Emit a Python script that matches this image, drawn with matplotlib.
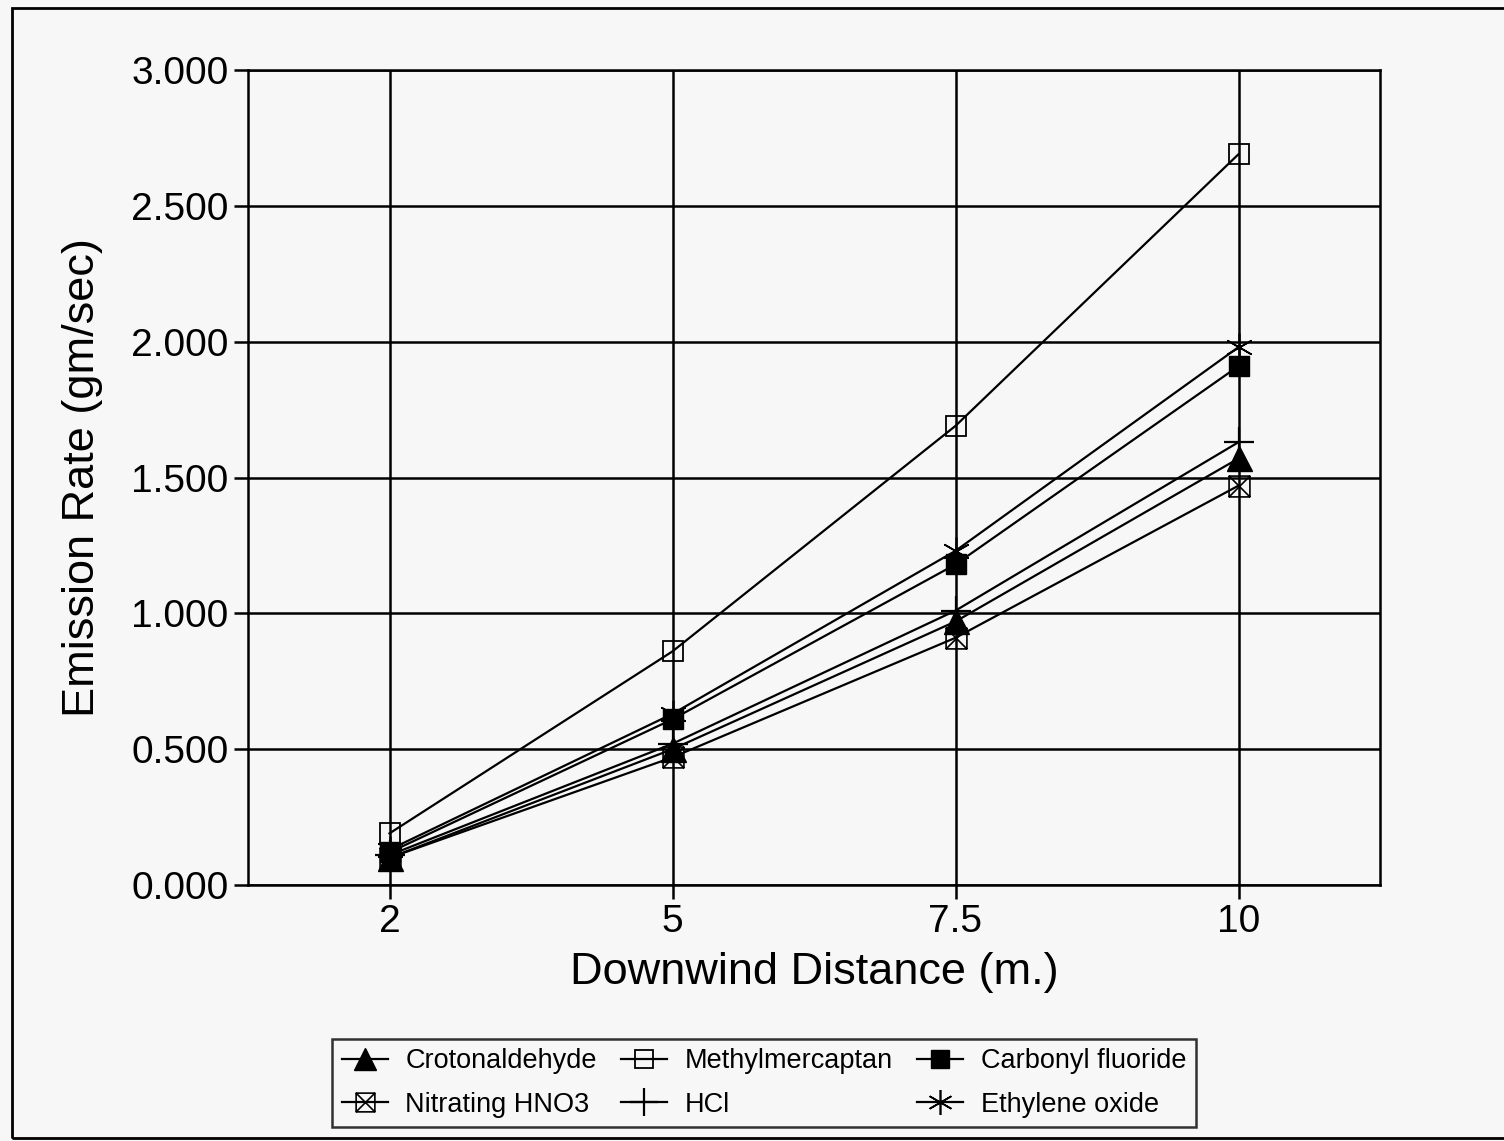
"""
Emission rate vs downwind distance for several chemicals.
"""
import matplotlib.pyplot as plt
from matplotlib.patches import Rectangle
from matplotlib.path import Path

plt.rcParams["font.family"] = ["Liberation Sans", "DejaVu Sans"]

distances = ["2", "5", "7.5", "10"]

crotonaldehyde = [0.10, 0.50, 0.97, 1.57]
methylmercaptan = [0.19, 0.86, 1.69, 2.69]
carbonyl_fluoride = [0.12, 0.61, 1.18, 1.91]
nitrating_hno3 = [0.10, 0.47, 0.91, 1.47]
hcl = [0.11, 0.52, 1.01, 1.63]
ethylene_oxide = [0.13, 0.63, 1.23, 1.98]

y_ticks = [0.0, 0.5, 1.0, 1.5, 2.0, 2.5, 3.0]

# square with both diagonals
box_x = Path(
    [(-1, -1), (1, -1), (1, 1), (-1, 1), (-1, -1), (-1, -1), (1, 1), (-1, 1), (1, -1)],
    [Path.MOVETO, Path.LINETO, Path.LINETO, Path.LINETO, Path.CLOSEPOLY,
     Path.MOVETO, Path.LINETO, Path.MOVETO, Path.LINETO],
)

bg = "#f7f7f7"
fig = plt.figure(figsize=(15.04, 11.41), dpi=100, facecolor=bg)
ax = fig.add_axes([248 / 1504, 1 - 885 / 1141, (1380 - 248) / 1504, (885 - 70) / 1141])
ax.set_facecolor(bg)

x = list(range(1, len(distances) + 1))
lw = 1.6
series = [
    ("Crotonaldehyde", crotonaldehyde, dict(marker="^", ms=18, mfc="black", mec="black")),
    ("Methylmercaptan", methylmercaptan, dict(marker="s", ms=15, mfc="none", mec="black", mew=1.3)),
    ("Carbonyl fluoride", carbonyl_fluoride, dict(marker="s", ms=14, mfc="black", mec="black")),
    ("Nitrating HNO3", nitrating_hno3, dict(marker=box_x, ms=15, mfc="none", mec="black", mew=1.2)),
    ("HCl", hcl, dict(marker="+", ms=22, mew=1.6, mec="black")),
    ("Ethylene oxide", ethylene_oxide, dict(marker=(6, 2, 0), ms=20, mew=1.2, mec="black")),
]
handles = []
for name, vals, kw in series:
    (h,) = ax.plot(x, vals, color="black", lw=lw, label=name, zorder=3, **kw)
    handles.append(h)

ax.set_xlim(0.5, 4.5)
ax.set_ylim(0, 3.0)
ax.set_xticks(x)
ax.set_xticklabels(distances)
ax.set_yticks(y_ticks)
ax.set_yticklabels([f"{v:.3f}" for v in y_ticks])
ax.tick_params(axis="both", labelsize=28, direction="out", length=10, width=1.8, colors="black", pad=4)
ax.grid(True, color="black", lw=1.8)
ax.set_axisbelow(True)
for s in ax.spines.values():
    s.set_linewidth(1.8)

ax.set_xlabel("Downwind Distance (m.)", fontsize=32.5, labelpad=8)
ax.set_ylabel("Emission Rate (gm/sec)", fontsize=32.5, labelpad=20)

# legend order: row-wise in 3 columns
order = [0, 3, 1, 4, 2, 5]
leg = fig.legend(
    [handles[i] for i in order],
    [series[i][0] for i in order],
    loc="center",
    bbox_to_anchor=(764 / 1504, 1 - 1083 / 1141),
    ncol=3,
    fontsize=19.5,
    frameon=True,
    fancybox=False,
    edgecolor="black",
    facecolor=bg,
    handlelength=1.7,
    handletextpad=0.65,
    columnspacing=0.9,
    labelspacing=0.65,
    borderpad=0.35,
    markerscale=0.9,
)
leg.get_frame().set_linewidth(1.8)

# outer frame of the figure
fig.patches.append(Rectangle((12 / 1504, 1 - 1138 / 1141), 1.1, (1138 - 8) / 1141,
                             transform=fig.transFigure, fill=False, lw=2, edgecolor="black"))

fig.savefig("out.png", dpi=100, facecolor=bg)
